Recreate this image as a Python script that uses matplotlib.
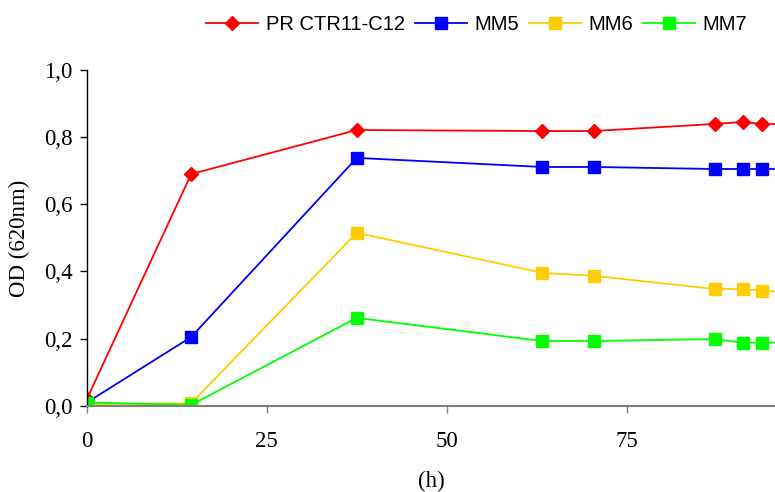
import numpy as np
import matplotlib
matplotlib.use('Agg')
import matplotlib.pyplot as plt
from matplotlib.ticker import FuncFormatter

# time (h); last point lies beyond the visible x range
hours = [0, 14.5, 37.5, 63.3, 70.4, 87.2, 91.1, 93.8, 110]
od_ctr = [0.02, 0.690, 0.821, 0.818, 0.818, 0.839, 0.845, 0.839, 0.838]
od_mm5 = [0.01, 0.205, 0.738, 0.711, 0.711, 0.705, 0.705, 0.705, 0.705]
od_mm6 = [0.005, 0.008, 0.515, 0.396, 0.387, 0.348, 0.348, 0.342, 0.33]
od_mm7 = [0.01, 0.003, 0.262, 0.193, 0.193, 0.199, 0.188, 0.188, 0.192]
labels = ['PR CTR11-C12', 'MM5', 'MM6', 'MM7']

fig = plt.figure(figsize=(7.75, 4.92), dpi=100)
ax = fig.add_axes([0.112, 0.175, 0.888, 0.683])

ax.plot(hours, od_ctr, color='#ff0000', marker='D', markersize=7.5, lw=1.3, label=labels[0])
ax.plot(hours, od_mm5, color='#0000ff', marker='s', markersize=8, lw=1.3, label=labels[1])
ax.plot(hours, od_mm6, color='#ffcc00', marker='s', markersize=8, lw=1.3, label=labels[2])
ax.plot(hours, od_mm7, color='#00ff00', marker='s', markersize=8, lw=1.3, label=labels[3])

ax.set_xlim(0, 95.6)
ax.set_ylim(0, 1.0)
ax.set_xticks([0, 25, 50, 75])
ax.set_yticks([0, 0.2, 0.4, 0.6, 0.8, 1.0])
ax.yaxis.set_major_formatter(FuncFormatter(lambda v, p: ('%.1f' % v).replace('.', ',')))

for s in ['top', 'right']:
    ax.spines[s].set_visible(False)
ax.spines['bottom'].set_color('#808080')
ax.spines['bottom'].set_linewidth(1.5)
ax.spines['left'].set_linewidth(1.0)

ax.tick_params(axis='both', labelsize=16.5, labelfontfamily='Liberation Serif', length=5, width=1)
ax.tick_params(axis='x', pad=13, color='#808080')
ax.tick_params(axis='y', pad=5)

ax.set_xlabel('(h)', fontsize=16.5, fontfamily='Liberation Serif', labelpad=14)
ax.set_ylabel('OD (620nm)', fontsize=16.5, fontfamily='Liberation Serif', labelpad=10)

fig.legend(loc='upper left', bbox_to_anchor=(192 / 775, 0.998), ncol=4, frameon=False,
           prop={'family': 'Liberation Sans', 'size': 14.5}, handlelength=2.6,
           columnspacing=0.5, handletextpad=0.35, borderaxespad=0.3)

plt.savefig('out.png', dpi=100)
